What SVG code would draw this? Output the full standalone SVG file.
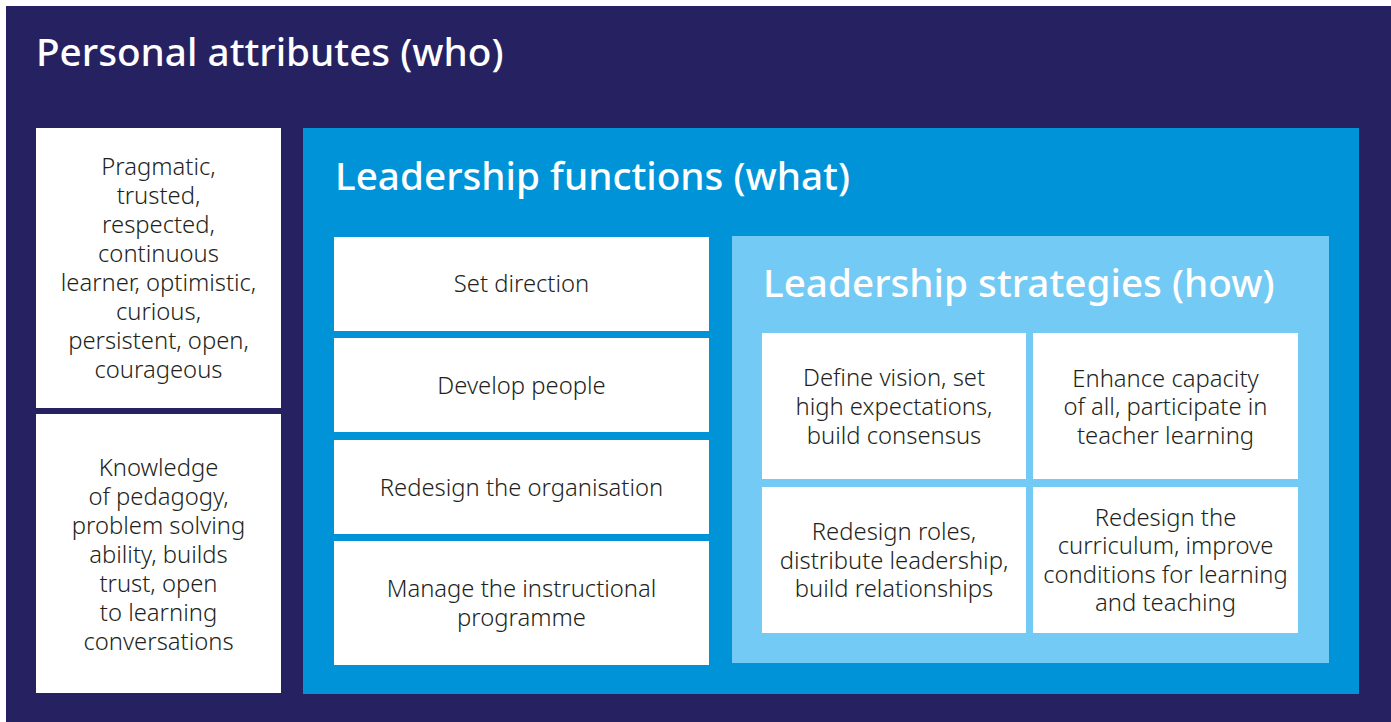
<svg xmlns="http://www.w3.org/2000/svg" width="1391" height="722" viewBox="0 0 1391 722">
<style>
.title{font-family:"Noto Sans","Open Sans",sans-serif;font-weight:500;fill:#ffffff;font-size:38.7px}
.t{font-family:"Noto Sans","Open Sans",sans-serif;font-weight:300;fill:#231f20;font-size:23.8px;text-anchor:middle}
.w{fill:#ffffff}
</style>
<rect x="0" y="0" width="1391" height="722" fill="#ffffff"/>
<g id="personal">
<rect x="6" y="6" width="1385" height="716" fill="#262262"/>
<text class="title" x="36" y="66">Personal attributes (who)</text>
</g>
<g id="attr1">
<rect class="w" x="36" y="128" width="245" height="280"/>
<text class="t" x="158.5" y="175">Pragmatic,</text>
<text class="t" x="158.5" y="204">trusted,</text>
<text class="t" x="158.5" y="233">respected,</text>
<text class="t" x="158.5" y="262">continuous</text>
<text class="t" x="158.5" y="291">learner, optimistic,</text>
<text class="t" x="158.5" y="320">curious,</text>
<text class="t" x="158.5" y="349">persistent, open,</text>
<text class="t" x="158.5" y="378">courageous</text>
</g>
<g id="attr2">
<rect class="w" x="36" y="414" width="245" height="279"/>
<text class="t" x="158.5" y="476">Knowledge</text>
<text class="t" x="158.5" y="505">of pedagogy,</text>
<text class="t" x="158.5" y="534">problem solving</text>
<text class="t" x="158.5" y="563">ability, builds</text>
<text class="t" x="158.5" y="592">trust, open</text>
<text class="t" x="158.5" y="621">to learning</text>
<text class="t" x="158.5" y="650">conversations</text>
</g>
<g id="functions">
<rect x="303" y="128" width="1056" height="566" fill="#0093d7"/>
<text class="title" x="335" y="190">Leadership functions (what)</text>
</g>
<g id="f1">
<rect class="w" x="334" y="237" width="375" height="94"/>
<text class="t" x="521.5" y="292">Set direction</text>
</g>
<g id="f2">
<rect class="w" x="334" y="338" width="375" height="94"/>
<text class="t" x="521.5" y="394">Develop people</text>
</g>
<g id="f3">
<rect class="w" x="334" y="440" width="375" height="94"/>
<text class="t" x="521.5" y="496">Redesign the organisation</text>
</g>
<g id="f4">
<rect class="w" x="334" y="541" width="375" height="124"/>
<text class="t" x="521.5" y="597">Manage the instructional</text>
<text class="t" x="521.5" y="626">programme</text>
</g>
<g id="strategies">
<rect x="732" y="236" width="597" height="427" fill="#73caf4"/>
<text class="title" x="763" y="297">Leadership strategies (how)</text>
</g>
<g id="s1">
<rect class="w" x="762" y="333" width="264" height="146"/>
<text class="t" x="894" y="386">Define vision, set</text>
<text class="t" x="894" y="415">high expectations,</text>
<text class="t" x="894" y="444">build consensus</text>
</g>
<g id="s2">
<rect class="w" x="1033" y="333" width="265" height="146"/>
<text class="t" x="1165.5" y="387">Enhance capacity</text>
<text class="t" x="1165.5" y="415">of all, participate in</text>
<text class="t" x="1165.5" y="444">teacher learning</text>
</g>
<g id="s3">
<rect class="w" x="762" y="487" width="264" height="146"/>
<text class="t" x="894" y="540">Redesign roles,</text>
<text class="t" x="894" y="569">distribute leadership,</text>
<text class="t" x="894" y="597">build relationships</text>
</g>
<g id="s4">
<rect class="w" x="1033" y="487" width="265" height="146"/>
<text class="t" x="1165.5" y="526">Redesign the</text>
<text class="t" x="1165.5" y="554">curriculum, improve</text>
<text class="t" x="1165.5" y="583">conditions for learning</text>
<text class="t" x="1165.5" y="611">and teaching</text>
</g>
<g id="connectors"></g>
</svg>
